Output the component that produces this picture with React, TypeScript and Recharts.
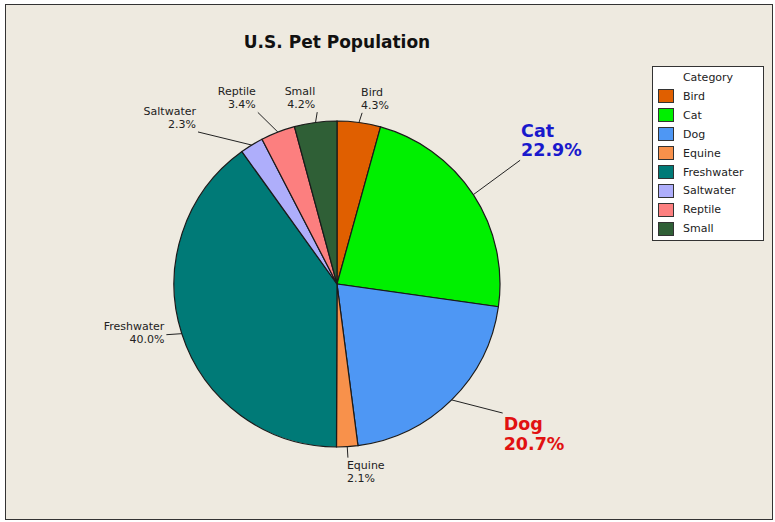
import React from 'react';
import { PieChart, Pie, Cell, Legend } from 'recharts';

// ---- data ----
const categories = ['Bird', 'Cat', 'Dog', 'Equine', 'Freshwater', 'Saltwater', 'Reptile', 'Small'];
const shares = [4.3, 22.9, 20.7, 2.1, 40.0, 2.3, 3.4, 4.2];
const colors = ['#E05F00', '#00F000', '#4E97F4', '#F8914B', '#007A77', '#AEAEFB', '#FC7F7F', '#2F5F36'];
const title = 'U.S. Pet Population';
const legendTitle = 'Category';
const highlightColors: Record<string, string> = { Cat: '#1919CC', Dog: '#E11111' };

// ---- label layout (radial extension in px, angular shift in degrees clockwise) ----
const labelExt = [10, 58, 47, 11, 15, 43, 26, 10];
const labelShift = [0.6, -0.8, -7.4, 0, 1.2, -10.9, -3.5, 1];

const data = categories.map((name, i) => ({ name, value: shares[i] }));

const RAD = Math.PI / 180;
const BG = '#EEEAE0';
const FONT = '"DejaVu Sans", Verdana, sans-serif';

function renderLabel(props: any) {
  const { cx, cy, midAngle, outerRadius, index, name, value } = props;
  const theta = 90 - midAngle;
  const sx = cx + outerRadius * Math.sin(theta * RAD);
  const sy = cy - outerRadius * Math.cos(theta * RAD);
  const t2 = theta + labelShift[index];
  const r2 = outerRadius + labelExt[index];
  const ex = cx + r2 * Math.sin(t2 * RAD);
  const ey = cy - r2 * Math.cos(t2 * RAD);
  const hi = highlightColors[name];
  const fs = hi ? 17.5 : 11;
  const lh = hi ? 19.5 : 13;
  const right = Math.sin(t2 * RAD) >= 0;
  const anchor = right ? 'start' : 'end';
  const tx = right ? ex + (hi ? 1 : -1) : ex - 2;
  const c = Math.cos(t2 * RAD);
  let y1: number;
  if (c > 0.3) {
    y1 = ey - 4 - lh;
  } else if (c < -0.3) {
    y1 = ey + 3 + 0.8 * fs;
  } else {
    y1 = ey - lh / 2 + 2;
  }
  const pct = `${Number(value).toFixed(1)}%`;
  return (
    <g key={`lbl-${index}`}>
      <line x1={sx} y1={sy} x2={ex} y2={ey} stroke="#222" strokeWidth={1} />
      <text
        x={tx}
        y={y1}
        textAnchor={anchor}
        fontFamily={FONT}
        fontSize={fs}
        fontWeight={hi ? 'bold' : 'normal'}
        fill={hi || '#222'}
      >
        <tspan x={tx} y={y1}>{name}</tspan>
        <tspan x={tx} y={y1 + lh}>{pct}</tspan>
      </text>
    </g>
  );
}

const LegendBox = () => (
  <div
    style={{
      width: 110,
      height: 173,
      background: '#fff',
      border: '1px solid #333',
      fontFamily: FONT,
      fontSize: 11,
      color: '#222',
      lineHeight: '13px',
    }}
  >
    <div style={{ textAlign: 'center', marginTop: 4, height: 16 }}>{legendTitle}</div>
    {categories.map((c, i) => (
      <div key={c} style={{ display: 'flex', alignItems: 'center', height: 18.9, paddingLeft: 5 }}>
        <span
          style={{
            display: 'inline-block',
            width: 14,
            height: 12,
            background: colors[i],
            border: '1px solid #333',
            marginRight: 9,
          }}
        />
        <span>{c}</span>
      </div>
    ))}
  </div>
);

export default function App() {
  return (
    <div style={{ position: 'absolute', left: 0, top: 0, width: 775, height: 522, background: '#fff' }}>
      <div
        style={{
          position: 'absolute',
          left: 5,
          top: 4,
          width: 766,
          height: 514,
          background: BG,
          border: '1px solid #333',
        }}
      />
      <div style={{ position: 'absolute', left: 0, top: 0 }}>
        <PieChart width={775} height={522} margin={{ top: 0, right: 0, bottom: 0, left: 0 }}>
          <text
            x={337}
            y={48}
            textAnchor="middle"
            fontFamily={FONT}
            fontSize={17}
            fontWeight="bold"
            fill="#111"
          >
            {title}
          </text>
          <Pie
            data={data}
            dataKey="value"
            nameKey="name"
            cx={337}
            cy={284}
            outerRadius={163}
            startAngle={90}
            endAngle={-270}
            stroke="#1a1a1a"
            strokeWidth={1.2}
            label={renderLabel}
            labelLine={false}
            isAnimationActive={false}
          >
            {data.map((d, i) => (
              <Cell key={d.name} fill={colors[i]} />
            ))}
          </Pie>
          <Legend
            content={() => <LegendBox />}
            wrapperStyle={{ position: 'absolute', left: 652, top: 66, width: 112, height: 175 }}
          />
        </PieChart>
      </div>
    </div>
  );
}
